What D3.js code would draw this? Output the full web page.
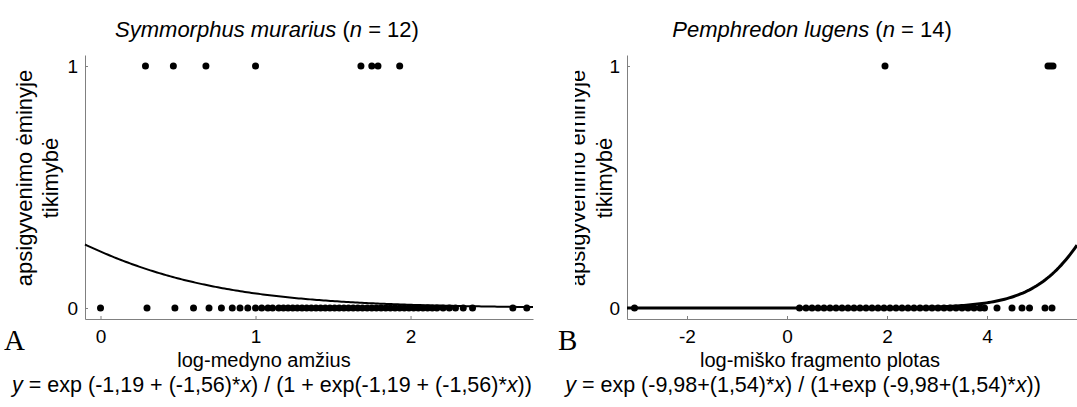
<!DOCTYPE html>
<html>
<head>
<meta charset="utf-8">
<script src="https://cdn.jsdelivr.net/npm/d3@7"></script>
<style>
  body { margin: 0; background: #fff; }
  svg { font-family: "Liberation Sans", Arial, sans-serif; }
  .axis path, .axis line { stroke: #808080; }
  .axis text { font-size: 19px; fill: #000; font-family: "Liberation Sans", Arial, sans-serif; }
</style>
</head>
<body>
<div id="chart"></div>
<script>
// panel A: Symmorphus murarius
const presenceA = [0.29, 0.47, 0.68, 1.0, 1.68, 1.75, 1.79, 1.93];
const absenceA = [0, 0.30, 0.48, 0.60, 0.70, 0.78, 0.85, 0.90, 0.95, 1.0, 1.04, 1.08, 1.11,
  1.15, 1.18, 1.21, 1.24, 1.27, 1.30, 1.33, 1.36, 1.39, 1.42, 1.45, 1.48, 1.51, 1.54, 1.57,
  1.60, 1.63, 1.66, 1.69, 1.72, 1.75, 1.78, 1.81, 1.84, 1.87, 1.90, 1.93, 1.96, 1.99, 2.02,
  2.05, 2.08, 2.11, 2.14, 2.17, 2.21, 2.25, 2.29, 2.34, 2.40, 2.66, 2.75];
const coefA = [-1.19, -1.56];
const ticksA = [0, 1, 2];

// panel B: Pemphredon lugens
const presenceB = [1.96, 5.22, 5.27, 5.32];
const absenceB = [-3.05, 0.25, 0.38, 0.5, 0.62, 0.74, 0.86, 0.98, 1.1, 1.22, 1.34, 1.46,
  1.58, 1.7, 1.82, 1.94, 2.06, 2.18, 2.3, 2.42, 2.54, 2.66, 2.78, 2.9, 3.02, 3.14, 3.26,
  3.38, 3.5, 3.62, 3.74, 3.86, 3.95, 4.2, 4.5, 4.7, 4.85, 5.16, 5.3];
const coefB = [-9.98, 1.54];
const ticksB = [-2, 0, 2, 4];

const yTicks = [0, 1];

const width = 1077, height = 407;
const svg = d3.select("#chart").append("svg")
  .attr("width", width).attr("height", height);

const logistic = (c, x) => Math.exp(c[0] + c[1] * x) / (1 + Math.exp(c[0] + c[1] * x));

function drawPanel(p) {
  const x = d3.scaleLinear().domain(p.xDomain).range([p.left, p.right]);
  const y = d3.scaleLinear().domain([-0.0455, 1.0455]).range([319, 55]);

  const g = svg.append("g");

  g.append("g").attr("class", "axis")
    .attr("transform", "translate(0,319)")
    .call(d3.axisBottom(x).tickValues(p.ticks).tickFormat(d => String(d))
      .tickSizeInner(-3).tickSizeOuter(0).tickPadding(11));

  g.append("g").attr("class", "axis")
    .attr("transform", `translate(${p.left},0)`)
    .call(d3.axisLeft(y).tickValues(yTicks).tickFormat(d => String(d))
      .tickSizeInner(-3).tickSizeOuter(0).tickPadding(7));

  // fitted curve
  const xs = d3.range(200).map(i => p.xDomain[0] + (p.xDomain[1] - p.xDomain[0]) * i / 199);
  g.append("path")
    .datum(xs)
    .attr("fill", "none")
    .attr("stroke", "#000")
    .attr("stroke-width", p.curveWidth)
    .attr("d", d3.line().x(d => x(d)).y(d => y(logistic(p.coef, d))));

  // observations
  g.append("g").selectAll("circle")
    .data(p.absence.map(v => [v, 0]).concat(p.presence.map(v => [v, 1])))
    .join("circle")
    .attr("cx", d => x(d[0]))
    .attr("cy", d => y(d[1]))
    .attr("r", 3.5)
    .attr("fill", "#000");

  // title
  const t = g.append("text")
    .attr("x", p.titleX).attr("y", 37)
    .attr("text-anchor", "middle")
    .attr("font-size", 22);
  t.append("tspan").attr("font-style", "italic").text(p.species);
  t.append("tspan").text(" (");
  t.append("tspan").attr("font-style", "italic").text("n");
  t.append("tspan").text(" = " + p.n + ")");

  // y label (cut at the panel's left edge, as in the source figure)
  svg.append("clipPath").attr("id", "clip" + p.letter)
    .append("rect").attr("x", p.clipX).attr("y", 0).attr("width", 200).attr("height", height);
  const yl = g.append("g").attr("font-size", 22).attr("text-anchor", "middle")
    .attr("clip-path", `url(#clip${p.letter})`);
  yl.append("text").attr("transform", `translate(${p.yLab1},178) rotate(-90)`).text("apsigyvenimo ėminyje");
  yl.append("text").attr("transform", `translate(${p.yLab2},178) rotate(-90)`).text("tikimybė");

  // x label
  g.append("text")
    .attr("x", p.xLabX).attr("y", 367)
    .attr("text-anchor", "middle")
    .attr("font-size", 20)
    .text(p.xLabel);

  // panel letter
  g.append("text")
    .attr("x", p.letterX).attr("y", 350)
    .attr("font-family", "'Liberation Serif', 'Times New Roman', serif")
    .attr("font-size", 29)
    .text(p.letter);

  // formula
  const f = g.append("text")
    .attr("x", p.formulaX).attr("y", 392)
    .attr("text-anchor", "middle")
    .attr("font-size", 21.5);
  p.formula.forEach(part => {
    f.append("tspan").attr("font-style", part[1] ? "italic" : null).text(part[0]);
  });
}

drawPanel({
  xDomain: [-0.1, 2.79], left: 85, right: 533, clipX: 0,
  ticks: ticksA, coef: coefA, curveWidth: 2,
  absence: absenceA, presence: presenceA,
  species: "Symmorphus murarius", n: 12, titleX: 267,
  yLab1: 32, yLab2: 58,
  xLabel: "log-medyno amžius", xLabX: 264,
  letter: "A", letterX: 4,
  formulaX: 272,
  formula: [["y", true], [" = exp (-1,19 + (-1,56)*", false], ["x", true],
    [") / (1 + exp(-1,19 + (-1,56)*", false], ["x", true], ["))", false]]
});

drawPanel({
  xDomain: [-3.2, 5.8], left: 627, right: 1077, clipX: 575,
  ticks: ticksB, coef: coefB, curveWidth: 3,
  absence: absenceB, presence: presenceB,
  species: "Pemphredon lugens", n: 14, titleX: 812,
  yLab1: 585, yLab2: 612,
  xLabel: "log-miško fragmento plotas", xLabX: 820,
  letter: "B", letterX: 558,
  formulaX: 803,
  formula: [["y", true], [" = exp (-9,98+(1,54)*", false], ["x", true],
    [") / (1+exp (-9,98+(1,54)*", false], ["x", true], ["))", false]]
});
</script>
</body>
</html>
